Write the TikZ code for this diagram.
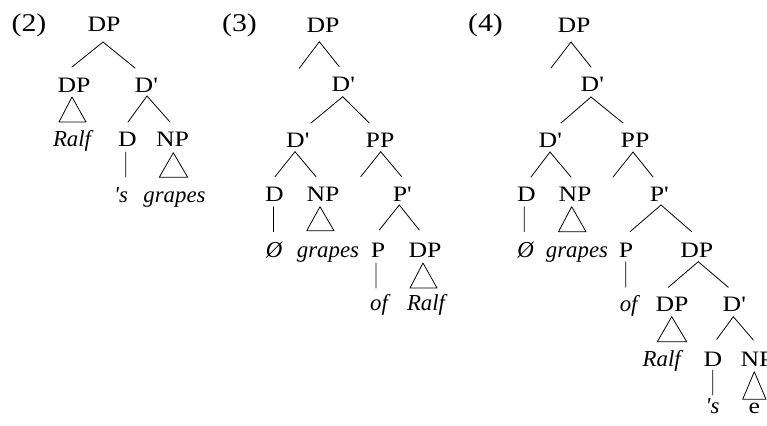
\documentclass[tikz,border=0pt]{standalone}
\usepackage{fontspec}
\setmainfont{Liberation Serif}
\newfontfamily\labfont{Liberation Serif}[FakeStretch=1.17]
\newcommand\br[6]{\draw[branch] ([xshift=#2bp,yshift=#3bp]#1.base) -- ([xshift=#5bp,yshift=#6bp]#4.base);}
\newcommand\trg[8]{\draw[branch] ([xshift=#2bp,yshift=#3bp]#1.base) -- ([xshift=#5bp,yshift=#6bp]#4.base) -- ([xshift=#7bp,yshift=#8bp]#4.base) -- cycle;}
\tikzset{
  lab/.style={anchor=base, inner sep=0pt, outer sep=0pt, font=\labfont\fontsize{22bp}{27bp}\selectfont},
  leaf/.style={anchor=base, inner sep=0pt, outer sep=0pt, font=\fontsize{22.8bp}{27bp}\selectfont\itshape},
  exnum/.style={anchor=base, inner sep=0pt, outer sep=0pt, font=\labfont\fontsize{25.5bp}{30bp}\selectfont},
  branch/.style={line width=0.8bp, line cap=round, line join=round},
}
\begin{document}
\begin{tikzpicture}[x=1bp, y=-1bp]
\useasboundingbox (0,0) rectangle (767,425);
\clip (0,0) rectangle (767,425);
\fill[white] (0,0) rectangle (767,425);

% ---------------- (2) ----------------
\node[exnum] (n2) at (29,31) {(2)};
\node[lab] (r2) at (104,31) {DP};
\node[lab] (a2) at (74,92) {DP};
\node[lab] (b2) at (146,92) {D\textquotesingle};
\node[leaf] (ralf2) at (72,146) {Ralf};
\node[lab] (d2) at (127.5,146) {D};
\node[lab] (np2) at (172.5,146) {NP};
\node[leaf] (s2) at (121,202) {\textquotesingle s};
\node[leaf] (g2) at (174.5,202) {grapes};

\br{r2}{-1}{-11}{a2}{-2}{25}
\br{r2}{-1}{-11}{b2}{-11}{24}
\trg{a2}{-2}{-5}{ralf2}{-13}{24}{14}{24}
\br{b2}{1}{-4}{d2}{0.5}{24}
\br{b2}{1}{-4}{np2}{-2.5}{24}
\br{d2}{-1.8}{-6}{s2}{4.7}{25}
\trg{np2}{0.8}{-6.7}{g2}{-15.2}{24.7}{13.2}{24.7}

% ---------------- (3) ----------------
\node[exnum] (n3) at (239.5,31) {(3)};
\node[lab] (r3) at (323,32) {DP};
\coordinate (e3a) at (299.3,68.3);
\node[lab] (c3) at (343,91) {D\textquotesingle};
\node[lab] (d3) at (297.5,147.5) {D\textquotesingle};
\node[lab] (p3) at (380,147.5) {PP};
\coordinate (e3b) at (360.7,176.7);
\node[lab] (dd3) at (274.5,201) {D};
\node[lab] (np3) at (323,201) {NP};
\node[lab] (pb3) at (402,201) {P\textquotesingle};
\node[leaf] (o3) at (274,257) {Ø};
\node[leaf] (g3) at (328,257) {grapes};
\node[lab] (pp3) at (378,257) {P};
\node[lab] (dp3) at (425,257) {DP};
\node[leaf] (of3) at (379,310) {of};
\node[leaf] (ralf3) at (426,310) {Ralf};

\draw[branch] ([xshift=-3.7bp,yshift=-9.7bp]r3.base) -- (e3a);
\br{r3}{-3.7}{-9.7}{c3}{-3.7}{24.3}
\br{c3}{-0.3}{-5.7}{d3}{13.5}{24.5}
\br{c3}{-0.3}{-5.7}{p3}{-10.7}{24.5}
\br{d3}{-2.5}{-4.2}{dd3}{0.5}{24.3}
\br{d3}{-2.5}{-4.2}{np3}{-7}{24.3}
\draw[branch] ([xshift=0.7bp,yshift=-4.2bp]p3.base) -- (e3b);
\br{p3}{0.7}{-4.2}{pb3}{-0.3}{24.3}
\br{dd3}{-1}{-5.7}{o3}{-0.5}{25.3}
\trg{np3}{-3}{-5.7}{g3}{-21.3}{26.3}{6}{26.3}
\br{pb3}{-2.7}{-4}{pp3}{1.3}{27}
\br{pb3}{-2.7}{-4}{dp3}{-5.7}{27}
\br{pp3}{-2}{-6}{of3}{-3}{22}
\trg{dp3}{-2}{-6}{ralf3}{-16}{22}{11}{22}

% ---------------- (4) ----------------
\node[exnum] (n4) at (485.5,31) {(4)};
\node[lab] (r4) at (574,32) {DP};
\coordinate (e4a) at (551,68);
\node[lab] (c4) at (592,91) {D\textquotesingle};
\node[lab] (d4) at (550,147) {D\textquotesingle};
\node[lab] (p4) at (635,147) {PP};
\coordinate (e4b) at (613,177);
\node[lab] (dd4) at (526.5,201) {D};
\node[lab] (np4) at (575,201) {NP};
\node[lab] (pb4) at (659,201) {P\textquotesingle};
\node[leaf] (o4) at (525.5,257) {Ø};
\node[leaf] (g4) at (577,257) {grapes};
\node[lab] (pp4) at (626,257) {P};
\node[lab] (dp4) at (696.7,257) {DP};
\node[leaf] (of4) at (628.7,311) {of};
\node[lab] (dp4c) at (672,311) {DP};
\node[lab] (db4c) at (734,311) {D\textquotesingle};
\node[leaf] (ralf4) at (661.7,366) {Ralf};
\node[lab] (dd4c) at (713,366) {D};
\node[lab] (np4c) at (757,366) {NP};
\node[leaf] (s4) at (712.5,413) {\textquotesingle s};
\node[lab] (e4) at (754.3,413) {e};

\draw[branch] ([xshift=-3bp,yshift=-10bp]r4.base) -- (e4a);
\br{r4}{-3}{-10}{c4}{-1}{24}
\br{c4}{-1}{-6}{d4}{11}{24}
\br{c4}{-1}{-6}{p4}{-12}{24}
\br{d4}{0}{-5}{dd4}{4.5}{24}
\br{d4}{0}{-5}{np4}{-4}{24}
\draw[branch] ([xshift=-2bp,yshift=-5bp]p4.base) -- (e4b);
\br{p4}{-2}{-5}{pb4}{-6}{24}
\br{dd4}{-2.2}{-5.7}{o4}{-1.2}{25.3}
\trg{np4}{-3.3}{-5.7}{g4}{-18.5}{25.3}{9}{25.3}
\br{pb4}{2}{-4}{pp4}{4}{25.3}
\br{pb4}{2}{-4}{dp4}{-5}{25.3}
\br{pp4}{-0.3}{-4.7}{of4}{-3}{23.7}
\br{dp4}{1.6}{-4.7}{dp4c}{-3.7}{23.7}
\br{dp4}{1.6}{-4.7}{db4c}{-5.7}{23.7}
\trg{dp4c}{-0.3}{-5.7}{ralf4}{-4.4}{24.3}{25}{24.3}
\br{db4c}{-0.7}{-5.7}{dd4c}{3.7}{26.7}
\br{db4c}{-0.7}{-5.7}{np4c}{-3.7}{26}
\br{dd4c}{-0.3}{-4}{s4}{0.2}{18}
\trg{np4c}{-2.7}{-5.7}{e4}{-11.6}{13.7}{11.7}{13.7}
\end{tikzpicture}
\end{document}
